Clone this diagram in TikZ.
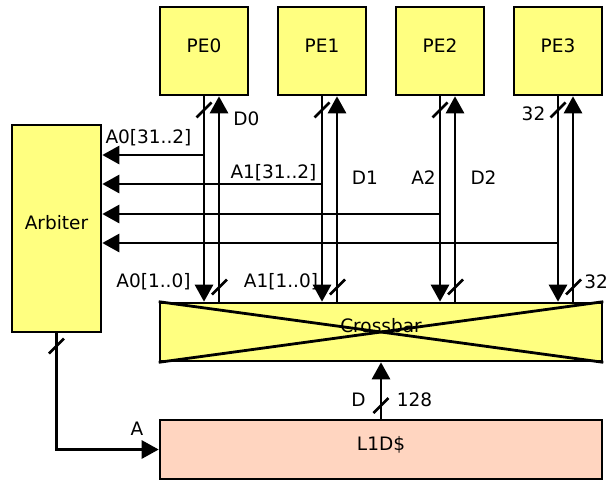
\documentclass[tikz,border=0pt]{standalone}
\usepackage{fontspec}
\setmainfont{DejaVu Sans}
\usetikzlibrary{arrows.meta}
\definecolor{boxyellow}{RGB}{255,255,128}
\definecolor{cachepeach}{RGB}{255,213,192}
\newcommand\slashmark[1]{\draw[tickmark] ([shift={(-7.5,7.5)}]#1) -- ([shift={(7.5,-7.5)}]#1);}
\begin{document}
\begin{tikzpicture}[x=1pt,y=-1pt,
  box/.style={draw=black, line width=2.6pt, fill=boxyellow, inner sep=0pt},
  wire/.style={line width=2.8pt},
  arr/.style={wire, -{Triangle[length=17pt,width=18pt]}},
  txt/.style={inner sep=0pt, anchor=base, font=\fontsize{18.5}{22}\selectfont},
  tickmark/.style={line width=2.8pt}]
\useasboundingbox (0,0) rectangle (609,482);

% boxes
\node[box, minimum width=88pt, minimum height=88pt] (pe0) at (204,51) {};
\node[box, minimum width=88pt, minimum height=88pt] (pe1) at (322,51) {};
\node[box, minimum width=88pt, minimum height=88pt] (pe2) at (440,51) {};
\node[box, minimum width=88pt, minimum height=88pt] (pe3) at (558,51) {};
\node[box, minimum width=89pt, minimum height=207pt] (arb) at (56.5,228.5) {};
\node[box, minimum width=442pt, minimum height=58pt] (xbar) at (381,332) {};
\node[box, fill=cachepeach, minimum width=442pt, minimum height=59pt] (l1d) at (381,449.5) {};
\draw[wire] (xbar.north west) -- (xbar.south east);
\draw[wire] (xbar.south west) -- (xbar.north east);

% box texts
\node[txt] (tpe0) at (204,52) {PE0};
\node[txt] (tpe1) at (322,52) {PE1};
\node[txt] (tpe2) at (440,52) {PE2};
\node[txt] (tpe3) at (558,52) {PE3};
\node[txt] (tarb) at (56.5,229) {Arbiter};
\node[txt] (txbar) at (381,332) {Crossbar};
\node[txt] (tl1d) at (381,450) {L1D\$};

% address lines PE -> crossbar, data lines crossbar -> PE
\foreach \p in {pe0,pe1,pe2,pe3}{
  \draw[arr] (\p.south) -- (\p.south |- xbar.north);
  \draw[arr] ([xshift=15pt]\p.south |- xbar.north) -- ([xshift=15pt]\p.south);
}

% taps to arbiter
\coordinate (t0) at (204,155);
\coordinate (t1) at (322,184);
\coordinate (t2) at (440,214);
\coordinate (t3) at (558,243);
\foreach \t in {t0,t1,t2,t3}{
  \draw[arr] (\t) -- (arb.east |- \t);
}

% arbiter -> L1D$ and L1D$ -> crossbar
\draw[arr] (arb.south) -- (arb.south |- l1d.west) -- (l1d.west);
\draw[arr] (l1d.north) -- (xbar.south);

% width slash marks
\coordinate (s0) at (204,110);
\coordinate (s1) at (322,110);
\coordinate (s2) at (440,110);
\coordinate (s3) at (558,110);
\coordinate (d0) at (219.5,287);
\coordinate (d1) at (337.5,287);
\coordinate (d2) at (455.5,287);
\coordinate (d3) at (573.5,287);
\coordinate (sa) at (56.5,346);
\coordinate (sd) at (381,405.5);
\foreach \s in {s0,s1,s2,s3,d0,d1,d2,d3,sa,sd}{
  \slashmark{\s}
}

% labels
\node[txt] (la0h) at (148.5,143) {A0[31..2]};
\node[txt] (ld0) at (246.5,125) {D0};
\node[txt] (la1h) at (273.5,178) {A1[31..2]};
\node[txt] (ld1) at (365,184) {D1};
\node[txt] (la2) at (423.5,184) {A2};
\node[txt] (ld2) at (483.5,184) {D2};
\node[txt] (l32a) at (533.5,120) {32};
\node[txt] (la0l) at (153.5,287) {A0[1..0]};
\node[txt] (la1l) at (281,287) {A1[1..0]};
\node[txt, anchor=base east] (l32b) at (608,288) {32};
\node[txt] (ld) at (358.5,406) {D};
\node[txt] (l128) at (414.5,406) {128};
\node[txt] (la) at (137,435) {A};
\end{tikzpicture}
\end{document}
